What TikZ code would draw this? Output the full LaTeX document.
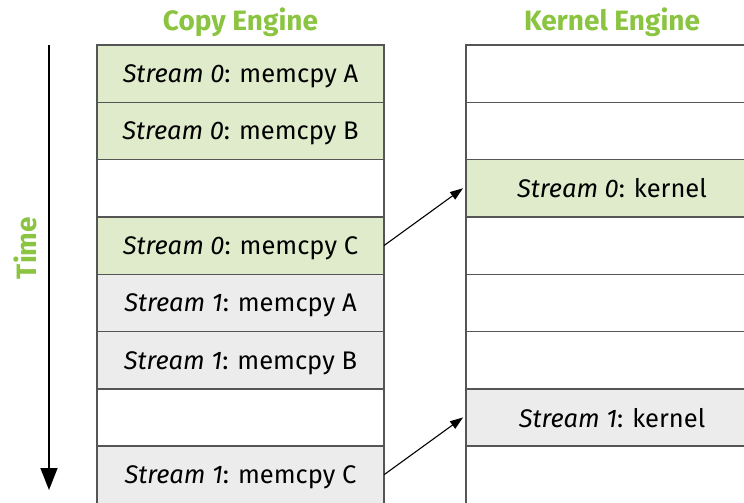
\documentclass[tikz,border=0pt]{standalone}
\usepackage{fontspec}
\setmainfont{Fira Sans}
\usepackage{xcolor}
\usepackage{tikz}
\usetikzlibrary{positioning,arrows.meta}
\definecolor{titlegreen}{RGB}{138,196,64}
\definecolor{busygreen}{RGB}{223,235,203}
\definecolor{busygray}{RGB}{236,236,236}
\definecolor{slotline}{RGB}{85,85,85}
\tikzset{
    slot/.style={rectangle, draw=slotline, line width=1.4pt, fill=white, minimum height=57.3pt, inner sep=0pt, outer sep=0pt, text depth=0pt, font=\fontsize{25.5}{30}\selectfont},
    copy slot/.style={slot, minimum width=287pt},
    kernel slot/.style={slot, minimum width=292pt},
    stream0/.style={fill=busygreen},
    stream1/.style={fill=busygray},
    engine title/.style={font=\fontsize{28}{33}\selectfont\bfseries, text=titlegreen},
    launch/.style={-{Triangle[length=13pt,width=9pt]}, line width=1.1pt, black}
}
\newcommand{\strm}[1]{\textit{Stream #1}}

\begin{document}
\begin{tikzpicture}[x=1pt, y=-1pt]
    \useasboundingbox (0,0) rectangle (744,503);
    \clip (0,0) rectangle (744,503);

    % Engine titles
    \node[engine title] (copytitle) at (240.5,22) {Copy Engine};
    \node[engine title] (kerneltitle) at (612,22) {Kernel Engine};

    % Copy engine queue
    \node[copy slot, stream0, anchor=north] (c1) at (240.5,45) {\strm{0}: memcpy A};
    \node[copy slot, stream0, below=0pt of c1] (c2) {\strm{0}: memcpy B};
    \node[copy slot, below=0pt of c2] (c3) {};
    \node[copy slot, stream0, below=0pt of c3] (c4) {\strm{0}: memcpy C};
    \node[copy slot, stream1, below=0pt of c4] (c5) {\strm{1}: memcpy A};
    \node[copy slot, stream1, below=0pt of c5] (c6) {\strm{1}: memcpy B};
    \node[copy slot, below=0pt of c6] (c7) {};
    \node[copy slot, stream1, below=0pt of c7] (c8) {\strm{1}: memcpy C};

    % Kernel engine queue
    \node[kernel slot, anchor=north west] (k1) at (466,45) {};
    \node[kernel slot, below=0pt of k1] (k2) {};
    \node[kernel slot, stream0, below=0pt of k2] (k3) {\strm{0}: kernel};
    \node[kernel slot, below=0pt of k3] (k4) {};
    \node[kernel slot, below=0pt of k4] (k5) {};
    \node[kernel slot, below=0pt of k5] (k6) {};
    \node[kernel slot, stream1, below=0pt of k6] (k7) {\strm{1}: kernel};
    \node[kernel slot, below=0pt of k7] (k8) {};

    % Dependencies
    \draw[launch] (c4.east) -- ([xshift=-3pt]k3.west);
    \draw[launch] (c8.east) -- ([xshift=-3pt]k7.west);

    % Time axis
    \coordinate (tstart) at (49,45);
    \coordinate (tend) at (49,490);
    \draw[-{Triangle[length=22pt,width=17pt]}, line width=1.5pt] (tstart) -- (tend);
    \node[engine title, rotate=90] (timelabel) at (25,248) {Time};
\end{tikzpicture}
\end{document}
